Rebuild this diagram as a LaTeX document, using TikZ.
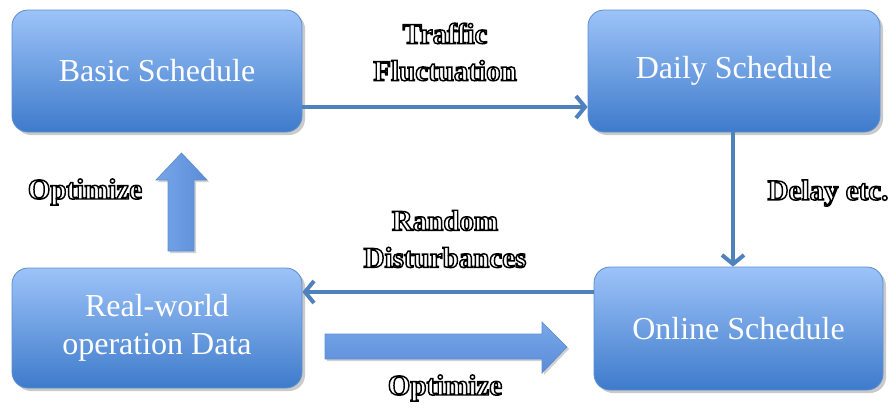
\documentclass[tikz,border=0pt]{standalone}
\usepackage{fontspec}
\setmainfont{Liberation Serif}
\newfontfamily\labfont[FakeBold=5]{Liberation Serif Bold}
\usetikzlibrary{arrows.meta,shadows}
\definecolor{lineblue}{HTML}{4F81BD}
\definecolor{boxtop}{HTML}{9DC3F8}
\definecolor{boxbot}{HTML}{3E7BCB}
\definecolor{boxedge}{HTML}{5B8ED1}
\definecolor{arrlight}{HTML}{A3C6F6}
\definecolor{arrmid}{HTML}{78A6E8}
\definecolor{arrdark}{HTML}{5A8DD8}
\definecolor{arredge}{HTML}{5E8FD2}
\newcommand{\olab}[1]{\special{pdf:bcolor [1 1 1] [0 0 0]}#1\special{pdf:ecolor}}
\begin{document}
\begin{tikzpicture}[x=1pt,y=-1pt,
  box/.style={rounded corners=16pt, draw=boxedge, line width=0.8pt,
    top color=boxtop, bottom color=boxbot, text=white,
    font=\fontsize{32}{38}\selectfont, align=center, inner sep=0pt,
    drop shadow={shadow xshift=3pt, shadow yshift=-3pt, opacity=0.35, fill=black!60}},
  conn/.style={draw=lineblue, line width=4pt, -{Straight Barb[length=9pt,width=22pt]}},
  lab/.style={font=\labfont\fontsize{29}{37}\selectfont, align=center, inner sep=0pt},
  blk/.style={draw=arredge, line width=0.7pt,
    drop shadow={shadow xshift=2pt, shadow yshift=-2pt, opacity=0.3, fill=black!60}}
]
\useasboundingbox (0,0) rectangle (896,407);

% boxes
\node[box, minimum width=290pt, minimum height=122pt] (basic) at (157,71) {Basic Schedule};
\node[box, minimum width=292pt, minimum height=122pt] (daily) at (734,71) {Daily Schedule};
\node[box, minimum width=290pt, minimum height=120pt] (real) at (157,328) {Real-world\\operation Data};
\node[box, minimum width=289pt, minimum height=123pt] (online) at (738.5,328.5) {Online Schedule};

% connectors
\draw[conn] (basic.east |- 0,107) -- (daily.west |- 0,107);
\draw[conn] (733,0 |- daily.south) -- (733,0 |- online.north);
\draw[conn] (online.west |- 0,292) -- (real.east |- 0,292);

% block arrows
\shade[blk, left color=arrmid, middle color=arrlight, right color=arrdark]
  (168,251) -- (168,180) -- (156,180) -- (181.5,153) -- (207,180) -- (194,180) -- (194,251) -- cycle;
\shade[blk, top color=arrmid, middle color=arrlight, bottom color=arrdark]
  (325,334) -- (542,334) -- (542,322) -- (567,347) -- (542,373) -- (542,359) -- (325,359) -- cycle;

% labels
\node[lab] (traffic) at (445,52) {\olab{Traffic}\\\olab{Fluctuation}};
\node[lab] (random) at (445,239) {\olab{Random}\\\olab{Disturbances}};
\node[lab] (opt1) at (85,192) {\olab{Optimize}};
\node[lab] (opt2) at (445,388) {\olab{Optimize}};
\node[lab] (delay) at (828,193) {\olab{Delay etc.}};
\end{tikzpicture}
\end{document}
